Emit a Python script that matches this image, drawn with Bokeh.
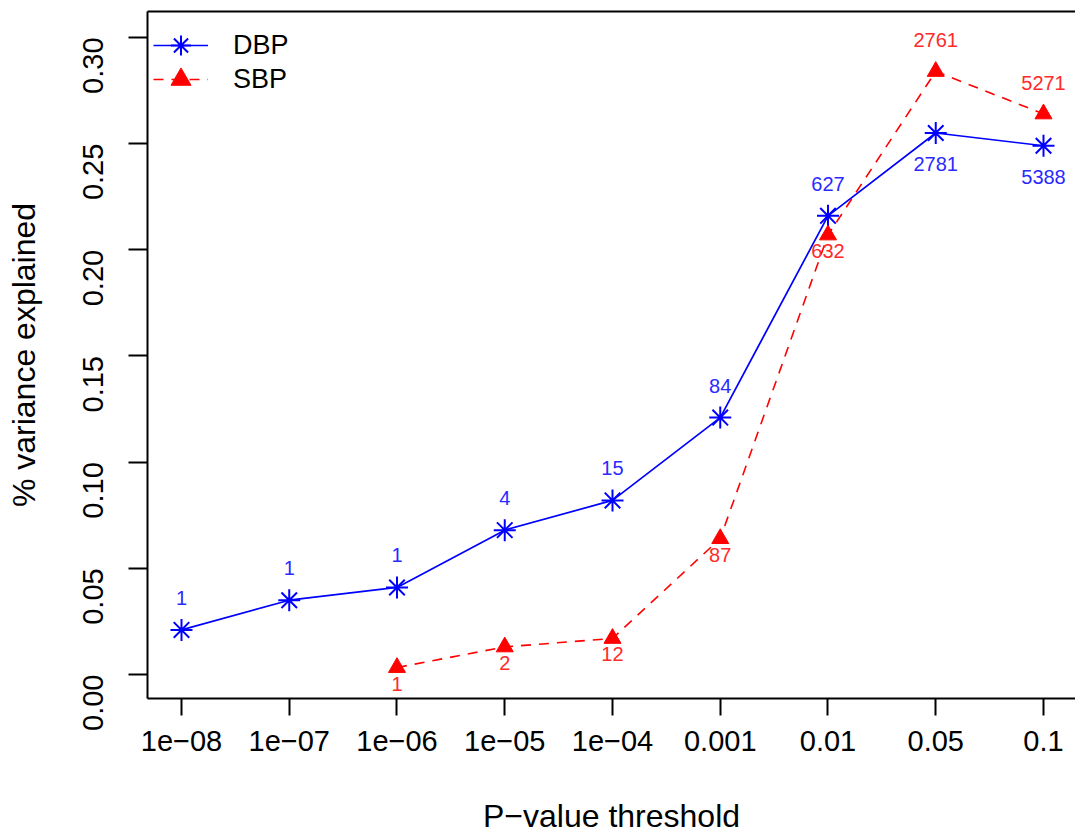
import math
from bokeh.plotting import figure
from bokeh.models import (Range1d, FixedTicker, LinearAxis, Legend, LegendItem,
                          ColumnDataSource)
from bokeh.core.properties import value
from bokeh.embed import file_html
from bokeh.resources import INLINE

# ---- data ----
thresholds = ["1e\u221208", "1e\u221207", "1e\u221206", "1e\u221205", "1e\u221204",
              "0.001", "0.01", "0.05", "0.1"]
dbp_var = [0.021, 0.035, 0.041, 0.068, 0.082, 0.121, 0.216, 0.255, 0.249]
dbp_n = ["1", "1", "1", "4", "15", "84", "627", "2781", "5388"]
dbp_place = ["above"] * 7 + ["below"] * 2
sbp_thresholds = thresholds[2:]
sbp_var = [0.0033, 0.013, 0.017, 0.064, 0.207, 0.284, 0.264]
sbp_n = ["1", "2", "12", "87", "632", "2761", "5271"]
sbp_place = ["below"] * 5 + ["above"] * 2
y_ticks = [0.0, 0.05, 0.10, 0.15, 0.20, 0.25, 0.30]

FONT = "Liberation Sans"
xpos = {t: i + 1 for i, t in enumerate(thresholds)}

p = figure(width=1075, height=836, output_backend="svg", toolbar_location=None,
           x_range=Range1d(0.6845, 9.297), y_range=Range1d(-0.01129, 0.31223),
           min_border_left=147, min_border_right=0, min_border_top=11,
           min_border_bottom=137)
p.outline_line_color = None
p.grid.visible = False
p.background_fill_color = "white"

# axes
xa = p.xaxis[0]
xa.ticker = FixedTicker(ticks=[xpos[t] for t in thresholds])
xa.major_label_overrides = {xpos[t]: t for t in thresholds}
ya = p.yaxis[0]
ya.ticker = FixedTicker(ticks=y_ticks)
ya.major_label_overrides = {v: f"{v:.2f}" for v in y_ticks}
ya.major_label_orientation = math.pi / 2
for ax in (xa, ya):
    ax.axis_line_width = 2
    ax.major_tick_line_width = 2
    ax.major_tick_in = 0
    ax.minor_tick_line_color = None
    ax.major_label_text_font = FONT
    ax.major_label_text_font_size = "29px"
    ax.major_label_text_color = "black"
    ax.axis_label_text_font = FONT
    ax.axis_label_text_font_size = "32px"
    ax.axis_label_text_font_style = "normal"
    ax.axis_label_text_color = "black"
xa.major_tick_out = 17
xa.major_label_standoff = 15
xa.axis_label = "P\u2212value threshold"
xa.axis_label_standoff = 44
ya.major_tick_out = 19
ya.major_label_standoff = 35
ya.axis_label = "% variance explained"
ya.axis_label_standoff = 29

top = LinearAxis(ticker=FixedTicker(ticks=[]), axis_line_width=2,
                 major_tick_out=0, major_tick_in=0, minor_tick_line_color=None,
                 major_label_text_font_size="0px")
p.add_layout(top, "above")

# series
dx = [xpos[t] for t in thresholds]
sx = [xpos[t] for t in sbp_thresholds]
off_dbp = {"above": -32, "below": 31}
off_sbp = {"above": -31, "below": 16}

dsrc = ColumnDataSource(dict(x=dx, y=dbp_var, lab=dbp_n,
                             off=[off_dbp[q] for q in dbp_place]))
ssrc = ColumnDataSource(dict(x=sx, y=sbp_var, lab=sbp_n,
                             off=[off_sbp[q] for q in sbp_place]))

dl = p.line("x", "y", source=dsrc, line_color="blue", line_width=1.7)
ds = p.scatter("x", "y", source=dsrc, marker="asterisk", size=22,
               line_color="blue", line_width=2)
sl = p.line("x", "y", source=ssrc, line_color="red", line_width=1.6,
            line_dash="10 8")
ss = p.scatter("x", "y", source=ssrc, marker="triangle", size=17,
               fill_color="red", line_color="red", line_width=1)

p.text("x", "y", text="lab", source=dsrc, y_offset="off", text_align="center",
       text_baseline="middle", text_color="#2a2aff", text_font=value(FONT),
       text_font_size="20px")
p.text("x", "y", text="lab", source=ssrc, y_offset="off", text_align="center",
       text_baseline="middle", text_color="#ff2a2a", text_font=value(FONT),
       text_font_size="20px")

legend_style = dict(margin=0, padding=0, spacing=0, glyph_width=55,
                    glyph_height=50, label_standoff=25, label_text_font=FONT,
                    label_text_font_size="27px", label_text_color="black",
                    label_height=30, border_line_color=None,
                    background_fill_alpha=0)
leg1 = Legend(items=[LegendItem(label="DBP", renderers=[dl, ds])],
              location=(6, 628), **legend_style)
leg2 = Legend(items=[LegendItem(label="SBP", renderers=[sl, ss])],
              location=(6, 594), **legend_style)
p.add_layout(leg1, "center")
p.add_layout(leg2, "center")

open("out.html", "w").write(file_html(p, INLINE))
